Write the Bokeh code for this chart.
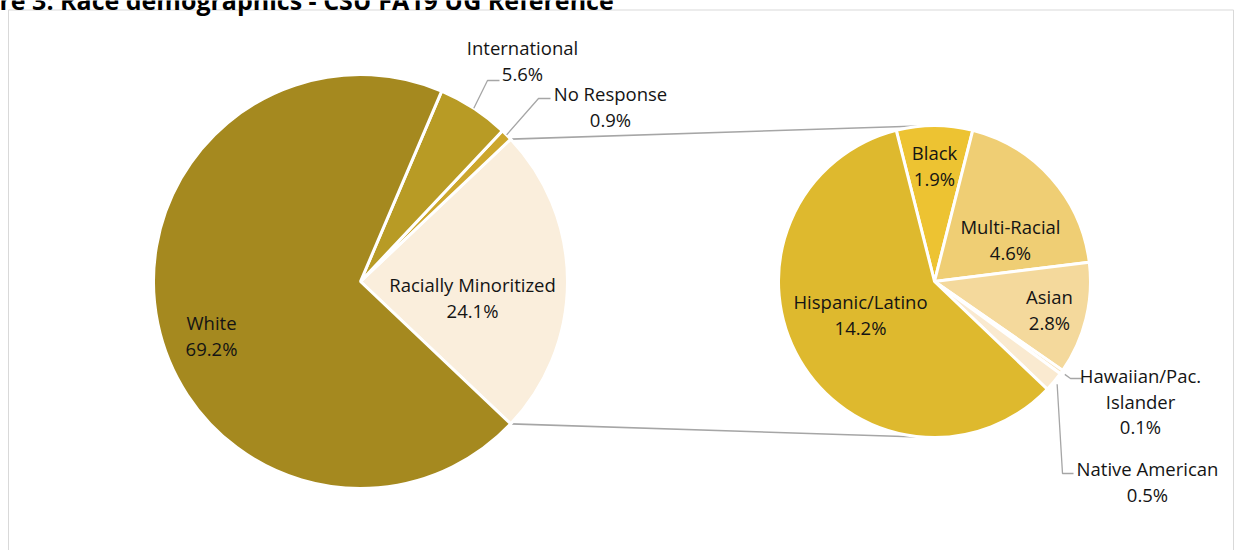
import numpy as np
from bokeh.plotting import figure
from bokeh.models import Range1d
from bokeh.core.properties import value
from bokeh.embed import file_html
from bokeh.resources import INLINE

# ---------------- data ----------------
main_labels = ["Racially Minoritized", "No Response", "International", "White"]
main_values = [24.1, 0.9, 5.6, 69.2]
main_colors = ["#FAEEDC", "#CCA62C", "#B89B25", "#A5891F"]

sub_labels = ["Black", "Multi-Racial", "Asian", "Hawaiian/Pac. Islander", "Native American", "Hispanic/Latino"]
sub_values = [1.9, 4.6, 2.8, 0.1, 0.5, 14.2]
sub_colors = ["#EDC332", "#EFCE74", "#F4D99C", "#F8E4BE", "#FAEAD0", "#DEB92E"]

title_text = "re 3: Race demographics - CSU FA19 UG Reference"

# ---------------- layout ----------------
W, H = 1235, 550
def Y(py):
    return H - py

C1 = (360, Y(281)); R1 = 207
C2 = (934, Y(281)); R2 = 156
FONT = "Open Sans"
FS = "18.5px"
TXT = "#141414"
GRAY = "#A6A6A6"

p = figure(width=W, height=H, x_range=Range1d(0, W), y_range=Range1d(0, H),
           output_backend="svg", toolbar_location=None,
           x_axis_type=None, y_axis_type=None, min_border=0)
p.grid.visible = False
p.outline_line_color = None
p.background_fill_color = "white"
p.border_fill_color = "white"

# frame border
p.quad(left=[8], right=[1233], top=[Y(9.5)], bottom=[-20], fill_color=None,
       line_color="#D9D9D9", line_width=1)

# title (partially clipped at top, as in the reference)
p.text(x=[-1], y=[Y(-1)], text=[title_text], text_font=value(FONT), text_font_style="bold",
       text_font_size="25px", text_color="black", text_align="left", text_baseline="alphabetic")

# ---- main pie angles (standard CCW, degrees); minoritized slice centred at 0 ----
tot1 = sum(main_values)
spans1 = [v / tot1 * 360 for v in main_values]
m_start, m_end = [], []
a = -spans1[0] / 2
for s in spans1:
    m_start.append(a); m_end.append(a + s); a += s

# ---- sub pie angles; Black centred at 90, going clockwise ----
tot2 = sum(sub_values)
spans2 = [v / tot2 * 360 for v in sub_values]
s_start, s_end = [], []
a = 90 + spans2[0] / 2
for s in spans2:
    s_end.append(a); s_start.append(a - s); a -= s

def edge(c, r, ang):
    t = np.deg2rad(ang)
    return c[0] + r * np.cos(t), c[1] + r * np.sin(t)

rad = lambda lst: [float(np.deg2rad(v)) for v in lst]

# connector lines (behind pies)
top1 = edge(C1, R1, m_end[0]); bot1 = edge(C1, R1, m_start[0])
p.line(x=[top1[0], C2[0]], y=[top1[1], C2[1] + R2], line_color=GRAY, line_width=1.6)
p.line(x=[bot1[0], C2[0]], y=[bot1[1], C2[1] - R2], line_color=GRAY, line_width=1.6)

# pies
p.wedge(x=C1[0], y=C1[1], radius=R1, start_angle=rad(m_start), end_angle=rad(m_end),
        fill_color=main_colors, line_color="white", line_width=3)
p.wedge(x=C2[0], y=C2[1], radius=R2, start_angle=rad(s_start), end_angle=rad(s_end),
        fill_color=sub_colors, line_color="white", line_width=3)

# leader lines
def mid(lst_s, lst_e, i):
    return (lst_s[i] + lst_e[i]) / 2

leaders = []
st = edge(C1, R1, mid(m_start, m_end, 2)); leaders.append(([st[0], 487, 499], [st[1], Y(80), Y(80)]))
st = edge(C1, R1, mid(m_start, m_end, 1)); leaders.append(([st[0], 538, 550], [st[1], Y(98), Y(98)]))
st = edge(C2, R2 + 4, mid(s_start, s_end, 3)); leaders.append(([st[0], 1070, 1082], [st[1], Y(378), Y(378)]))
st = edge(C2, R2 + 4, mid(s_start, s_end, 4)); leaders.append(([st[0], 1062, 1073], [st[1], Y(473), Y(473)]))
p.multi_line(xs=[l[0] for l in leaders], ys=[l[1] for l in leaders], line_color=GRAY, line_width=1.3)

# labels: (text lines, centre x, first line y px)
def pct(v):
    return f"{v:.1f}%"

label_specs = [
    (["White", pct(main_values[3])], 211, 322),
    (["Racially Minoritized", pct(main_values[0])], 472, 284),
    (["International", pct(main_values[2])], 522, 47),
    (["No Response", pct(main_values[1])], 610, 93),
    (["Black", pct(sub_values[0])], 934, 152),
    (["Multi-Racial", pct(sub_values[1])], 1010, 226),
    (["Asian", pct(sub_values[2])], 1049, 296),
    (["Hispanic/Latino", pct(sub_values[5])], 860, 301),
    (["Hawaiian/Pac.", "Islander", pct(sub_values[3])], 1140, 375),
    (["Native American", pct(sub_values[4])], 1147, 468),
]
tx, ty, tt = [], [], []
for lines, x, y0 in label_specs:
    for k, line in enumerate(lines):
        tx.append(x); ty.append(Y(y0 + 25.5 * k)); tt.append(line)
p.text(x=tx, y=ty, text=tt, text_font=value(FONT), text_font_size=FS, text_color=TXT,
       text_align="center", text_baseline="middle")

open("out.html", "w").write(file_html(p, INLINE))
